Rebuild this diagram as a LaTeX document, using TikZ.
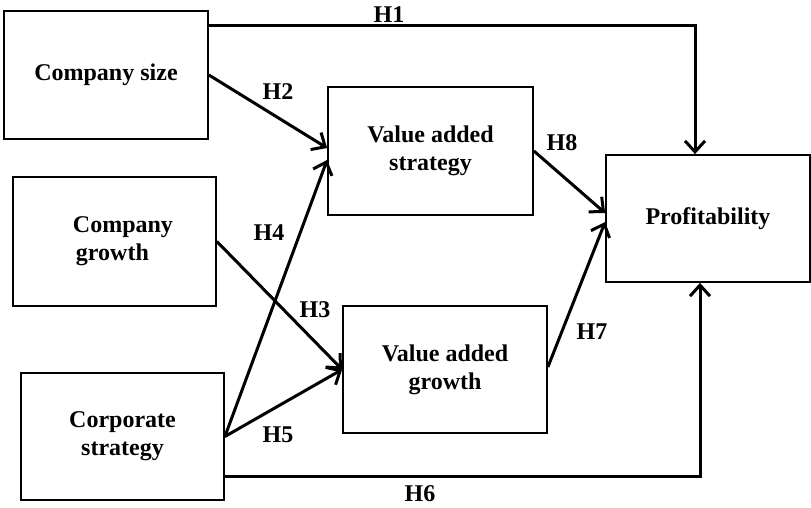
\documentclass[tikz,border=0pt]{standalone}
\usepackage{fontspec}
\setmainfont{Liberation Serif}
\usetikzlibrary{arrows.meta}
\tikzset{
  box/.style={draw, line width=1.8pt, inner sep=0pt, font=\bfseries\fontsize{24}{28}\selectfont, align=center},
  lbl/.style={inner sep=0pt, font=\bfseries\fontsize{24}{28}\selectfont},
  conn/.style={line width=3pt, -{Straight Barb[length=11pt,width=20pt,line width=3pt]}}
}
\begin{document}
\begin{tikzpicture}[x=1pt,y=-1pt]
\useasboundingbox (0,0) rectangle (811,507);
\node[box, minimum width=204pt, minimum height=128pt] (cs) at (106,75) {Company size};
\node[box, minimum width=203pt, minimum height=129pt, align=left] (cg) at (114.5,241.5) {\hspace*{17pt}Company\\ \hspace*{20pt}growth};
\node[box, minimum width=203pt, minimum height=127pt] (cst) at (122.5,436.5) {Corporate\\ strategy};
\node[box, minimum width=205pt, minimum height=128pt] (vs) at (430.5,151) {Value added\\ strategy};
\node[box, minimum width=204pt, minimum height=127pt] (vg) at (445,369.5) {Value added\\ growth};
\node[box, minimum width=204pt, minimum height=127pt] (pr) at (708,218.5) {Profitability};

\draw[conn] ([yshift=-15pt]cs.north east) -| ([xshift=-13pt]pr.north);
\draw[conn] (cs.east) -- ([yshift=3pt]vs.west);
\draw[conn] (cst.east) -- ([yshift=-9pt]vs.west);
\draw[conn] (cg.east) -- (vg.west);
\draw[conn] (cst.east) -- (vg.west);
\draw[conn] ([yshift=-39.5pt]cst.east) -| ([xshift=-8pt]pr.south);
\draw[conn] ([yshift=2.5pt]vg.east) -- ([yshift=-3.5pt]pr.west);
\draw[conn] (vs.east) -- ([yshift=5.5pt]pr.west);

\node[lbl] (h1) at (389,15) {H1};
\node[lbl] (h2) at (278,92) {H2};
\node[lbl] (h4) at (269,233) {H4};
\node[lbl] (h3) at (315,310) {H3};
\node[lbl] (h5) at (278,435) {H5};
\node[lbl] (h6) at (420,494) {H6};
\node[lbl] (h7) at (592,332) {H7};
\node[lbl] (h8) at (562,143) {H8};
\end{tikzpicture}
\end{document}
